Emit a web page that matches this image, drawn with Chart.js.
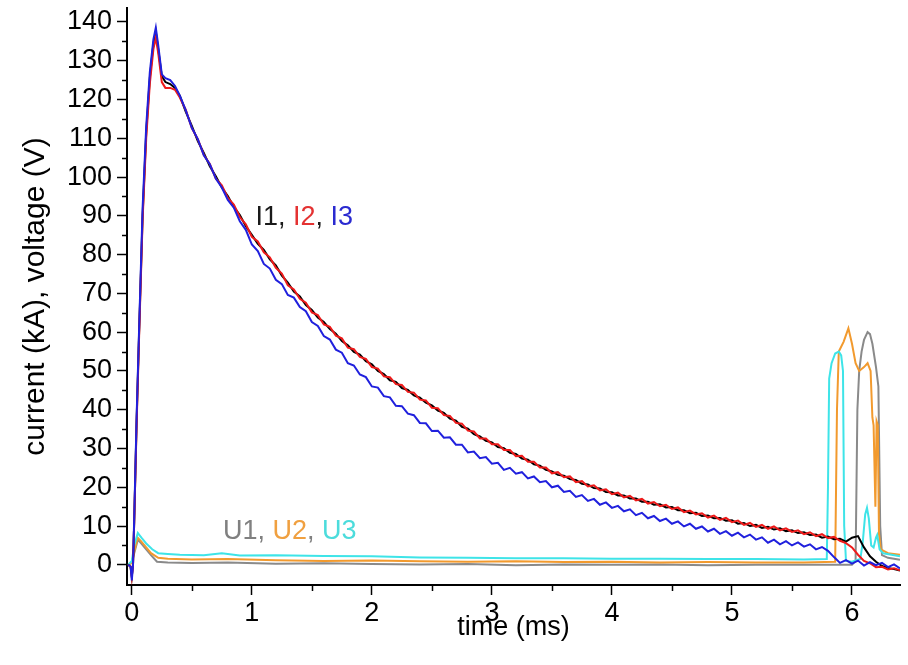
<!DOCTYPE html>
<html>
<head>
<meta charset="utf-8">
<script src="https://cdn.jsdelivr.net/npm/chart.js@4.4.1/dist/chart.umd.min.js"></script>
<style>
  html,body{margin:0;padding:0;background:#fff;}
  #wrap{width:908px;height:665px;}
</style>
</head>
<body>
<div id="wrap"><canvas id="c" width="908" height="665"></canvas></div>
<script>
// time axis of the current traces (ms)
const tCur = [
  -0.03,-0.01,0,0.01,0.02,0.04,0.06,0.09,0.12,0.15,0.18,0.2,0.22,0.25,0.28,0.32,0.36,0.4,
  0.45,0.5,0.55,0.6,0.65,0.7,0.75,0.8,0.85,0.9,
  0.95,1.0,1.05,1.1,1.15,1.2,1.25,1.3,1.35,1.4,
  1.45,1.5,1.55,1.6,1.65,1.7,1.75,1.8,1.85,1.9,
  1.95,2.0,2.05,2.1,2.15,2.2,2.25,2.3,2.35,2.4,
  2.45,2.5,2.55,2.6,2.65,2.7,2.75,2.8,2.85,2.9,
  2.95,3.0,3.05,3.1,3.15,3.2,3.25,3.3,3.35,3.4,
  3.45,3.5,3.55,3.6,3.65,3.7,3.75,3.8,3.85,3.9,
  3.95,4.0,4.05,4.1,4.15,4.2,4.25,4.3,4.35,4.4,
  4.45,4.5,4.55,4.6,4.65,4.7,4.75,4.8,4.85,4.9,
  4.95,5.0,5.05,5.1,5.15,5.2,5.25,5.3,5.35,5.4,
  5.45,5.5,5.55,5.6,5.65,5.7,5.75,5.8,5.85,5.9,
  5.95,6.0,6.05,6.1,6.15,6.2,6.25,6.3,6.35,6.4
];
// currents (kA)
const I1 = [
  0,-0.5,-3,0,11,37,59,90,111.5,125.5,134.5,137.5,133,126,124.5,124,123,121,
  116.8,113.2,109.3,106.2,102.8,100.2,97.3,95.1,92.3,90.2,
  87.3,85.1,82.8,81.2,78.8,77.2,74.6,72.8,70.5,69.2,
  67.0,65.7,63.8,62.6,60.8,59.6,57.7,56.6,54.9,54.2,
  52.5,51.7,50.0,49.2,47.6,47.2,45.6,45.1,43.7,43.1,
  41.8,41.1,39.8,39.2,37.7,37.2,35.6,35.1,33.7,33.1,
  32.0,31.6,30.4,30.1,28.9,28.6,27.4,27.1,25.9,25.6,
  24.5,24.1,23.2,23.0,22.1,21.9,20.9,20.7,19.8,19.7,
  18.8,18.7,17.9,17.9,17.1,17.1,16.3,16.3,15.5,15.6,
  14.8,14.9,14.1,14.1,13.3,13.4,12.6,12.7,12.0,12.1,
  11.4,11.5,10.6,10.8,10.0,10.3,9.5,9.8,9.1,9.4,
  8.7,8.9,8.2,8.4,7.7,7.8,7.0,7.3,6.6,6.7,
  6.0,7.0,7.4,4.5,2.2,0.8,-0.3,-0.8,-1.1,-1.5
];
const I2 = [
  0,-0.5,-3,0,11,36,58,89,110,124,133,136,132,124.5,123,123,122.5,120.5,
  117.3,112.6,109.8,105.7,103.4,99.6,97.9,94.6,92.9,89.7,
  87.8,84.6,83.4,80.6,79.3,76.6,75.1,72.1,71.0,68.6,
  67.6,65.1,64.4,62.0,61.4,59.1,58.4,56.0,55.6,53.6,
  53.1,51.0,50.6,48.6,48.4,46.6,46.4,44.6,44.4,42.6,
  42.4,40.5,40.4,38.6,38.4,36.6,36.4,34.6,34.4,32.6,
  32.6,31.1,31.1,29.6,29.6,28.0,28.1,26.6,26.6,25.1,
  25.1,23.6,23.9,22.6,22.8,21.3,21.6,20.2,20.5,19.2,
  19.5,18.2,18.6,17.4,17.8,16.6,17.0,15.8,16.2,15.1,
  15.5,14.4,14.8,13.6,14.0,13.0,13.3,12.2,12.7,11.6,
  12.1,11.0,11.4,10.3,10.8,9.8,10.3,9.3,9.9,8.9,
  9.4,8.5,8.9,7.9,8.4,7.4,7.9,6.9,7.2,6.2,
  5.6,4.5,2.6,1.0,0.4,-0.6,-0.5,-1.2,-0.9,-1.4
];
const I3 = [
  0,-0.5,-4,0,12,38,60,92,113,127,135.5,138.5,134,126.5,125.5,125,123.5,121,
  117.2,112.7,109.8,105.6,103.3,99.6,97.3,94.1,92.1,88.6,
  86.4,82.6,80.9,77.6,76.4,73.5,72.4,69.6,68.9,66.5,
  65.4,62.6,61.6,59.0,58.1,55.5,54.7,52.0,51.4,49.1,
  48.4,46.0,45.7,43.5,43.2,41.0,40.9,39.0,38.6,36.6,
  36.5,34.5,34.6,32.8,32.9,31.0,31.0,29.0,29.2,27.5,
  27.8,26.1,26.3,24.5,25.0,23.5,23.9,22.3,22.8,21.3,
  21.6,20.0,20.4,18.8,19.1,17.5,18.0,16.5,17.0,15.5,
  16.1,14.7,15.2,13.8,14.3,12.8,13.4,12.0,12.6,11.3,
  11.9,10.6,11.2,9.9,10.6,9.3,9.9,8.6,9.3,8.0,
  8.7,7.5,8.3,7.1,7.8,6.5,7.1,5.7,6.5,5.3,
  6.1,5.0,5.8,4.7,5.3,4.0,4.6,3.6,2.0,0.5,
  1.2,0.3,1.1,-0.2,0.7,-0.1,0.5,-0.6,0.1,-0.9
];
// voltages (V), each with its own time points
const tU1 = [-0.03,0,0.02,0.05,0.08,0.12,0.16,0.21,0.3,0.5,0.8,1.2,1.6,2.0,2.4,2.8,3.2,3.6,4.0,4.4,4.8,5.2,5.6,6.0,
  6.03,6.045,6.06,6.08,6.1,6.13,6.15,6.17,6.2,6.22,6.235,6.25,6.3,6.4];
const U1 = [0,0.5,3,6.5,5.5,4,2.5,0.8,0.6,0.5,0.6,0.3,0.4,0.2,0.1,0.2,-0.1,0.1,0,0.1,-0.1,0,0,0,
  1,40,50,55,58,60,59.5,57,51,46,10,2.5,1.8,1.3];
const tU2 = [-0.03,0,0.02,0.05,0.08,0.12,0.16,0.22,0.3,0.5,0.8,1.2,1.6,2.0,2.4,2.8,3.2,3.6,4.0,4.4,4.8,5.2,5.6,
  5.86,5.875,5.89,5.93,5.97,6.0,6.03,6.06,6.1,6.13,6.155,6.17,6.18,6.195,6.205,6.215,6.225,6.24,6.3,6.4];
const U2 = [0,0.5,3.5,7,6,4.5,3,1.8,1.6,1.4,1.5,1.2,1.0,1.1,0.9,0.8,0.9,0.7,0.8,0.6,0.7,0.6,0.6,
  0.8,40,55,57.5,61,57,52,50,51,52,50,38,36,15,37,36,8,4,3,2.6];
const tU3 = [-0.03,0,0.02,0.05,0.08,0.12,0.17,0.22,0.3,0.4,0.6,0.75,0.9,1.2,1.6,2.0,2.4,2.8,3.2,3.6,4.0,4.4,4.8,5.2,5.6,
  5.79,5.80,5.81,5.83,5.86,5.89,5.91,5.925,5.935,5.95,6.0,6.07,6.09,6.11,6.125,6.14,6.16,6.18,6.2,6.21,6.23,6.26,6.4];
const U3 = [0,1,5,8.2,7,5.5,4,3,2.8,2.6,2.5,3.0,2.4,2.5,2.3,2.2,1.9,1.8,1.7,1.7,1.6,1.6,1.5,1.5,1.4,
  1.5,20,48,52,54.5,55,54,50,10,1,0.8,1.5,6,13,14.7,12,5,4.5,7,7.7,4,3,2.2];

const xTicks = [0,1,2,3,4,5,6];
const yTicks = [0,10,20,30,40,50,60,70,80,90,100,110,120,130,140];
const xMinor = [0.5,1.5,2.5,3.5,4.5,5.5];
const yMinor = [5,15,25,35,45,55,65,75,85,95,105,115,125,135];

const FONT = '"Liberation Sans", Arial, sans-serif';
const pts = (xs, ys) => xs.map((x,i)=>({x:x, y:ys[i]}));
const ds = (label, xs, ys, color) => ({label, data:pts(xs,ys), borderColor:color, borderWidth:2,
  pointRadius:0, tension:0, fill:false});

// minor ticks + in-plot labels
const extras = {
  id:'extras',
  afterDraw(chart){
    const {ctx, scales:{x, y}} = chart;
    ctx.save();
    ctx.strokeStyle = '#000'; ctx.lineWidth = 1.5;
    const x0 = chart.chartArea.left, y0 = chart.chartArea.bottom;
    ctx.beginPath();
    yMinor.forEach(v=>{ const p=Math.round(y.getPixelForValue(v))+0.5; ctx.moveTo(x0-5,p); ctx.lineTo(x0,p); });
    xMinor.forEach(v=>{ const p=Math.round(x.getPixelForValue(v))+0.5; ctx.moveTo(p,y0); ctx.lineTo(p,y0+6); });
    ctx.stroke();

    ctx.font = '27px ' + FONT;
    ctx.textBaseline = 'middle';
    const drawParts = (parts, tx, ty) => {
      let px = x.getPixelForValue(tx); const py = y.getPixelForValue(ty);
      parts.forEach(([s,c])=>{ ctx.fillStyle=c; ctx.fillText(s,px,py); px += ctx.measureText(s).width; });
    };
    drawParts([['I1','#1a1a1a'],[', ','#1a1a1a'],['I2','#e43232'],[', ','#1a1a1a'],['I3','#2a2ad0']], 1.03, 89.5);
    drawParts([['U1','#808080'],[', ','#808080'],['U2','#f0a040'],[', ','#808080'],['U3','#4cdcdc']], 0.76, 8.5);
    ctx.restore();
  }
};

new Chart(document.getElementById('c'), {
  type:'line',
  data:{
    datasets:[
      ds('I3', tCur, I3, '#2020dd'),
      ds('I2', tCur, I2, '#ee1a1a'),
      ds('I1', tCur, I1, '#000000'),
      ds('U3', tU3, U3, '#3ee4e8'),
      ds('U2', tU2, U2, '#f29a2e'),
      ds('U1', tU1, U1, '#8a8a8a')
    ]
  },
  options:{
    responsive:false, animation:false, devicePixelRatio:1,
    layout:{padding:{left:0, top:8, right:8, bottom:0}},
    plugins:{legend:{display:false}, tooltip:{enabled:false}},
    scales:{
      x:{
        type:'linear', min:-0.04, max:6.4,
        afterBuildTicks: s => { s.ticks = xTicks.map(v=>({value:v})); },
        afterFit: s => { s.height = 80; s.paddingLeft = 0; s.paddingRight = 0; },
        grid:{drawOnChartArea:false, drawTicks:true, tickLength:10, tickColor:'#000', tickWidth:1.5},
        border:{display:true, color:'#000', width:2},
        ticks:{color:'#000', font:{family:FONT, size:27}, padding:2, maxRotation:0, autoSkip:false},
        title:{display:true, text:'time (ms)', color:'#000', font:{family:FONT, size:27}, padding:{top:0, bottom:21}}
      },
      y:{
        type:'linear', min:-5.2, max:143.6,
        afterBuildTicks: s => { s.ticks = yTicks.map(v=>({value:v})); },
        afterFit: s => { s.width = 127; s.paddingTop = 0; s.paddingBottom = 0; },
        grid:{drawOnChartArea:false, drawTicks:true, tickLength:10, tickColor:'#000', tickWidth:1.5},
        border:{display:true, color:'#000', width:2},
        ticks:{color:'#000', font:{family:FONT, size:27}, padding:5, autoSkip:false},
        title:{display:true, text:'current (kA), voltage (V)', color:'#000', font:{family:FONT, size:30}, padding:{top:18, bottom:0}}
      }
    }
  },
  plugins:[extras]
});
</script>
</body>
</html>
